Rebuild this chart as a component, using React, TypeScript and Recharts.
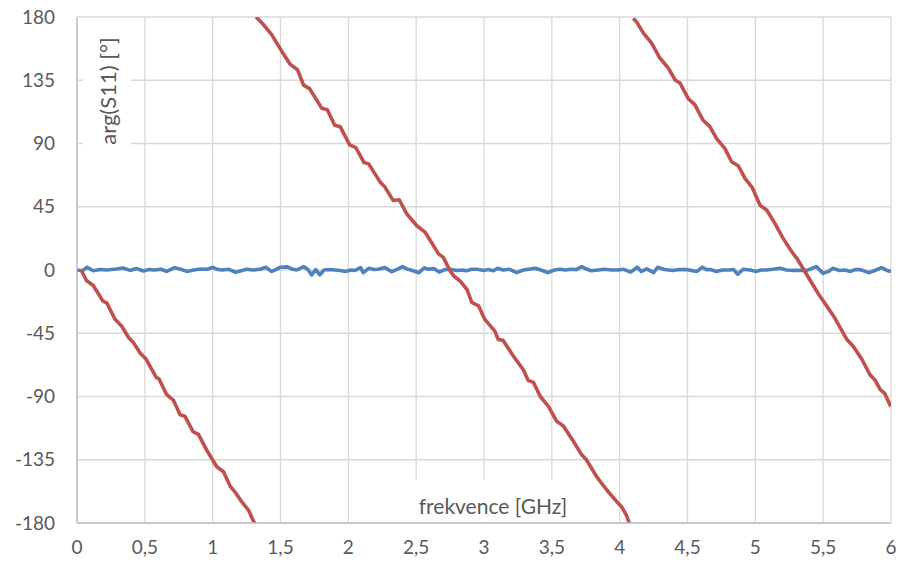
import { LineChart, Line, XAxis, YAxis, CartesianGrid, Label } from 'recharts';

const xTicks = [0, 0.5, 1, 1.5, 2, 2.5, 3, 3.5, 4, 4.5, 5, 5.5, 6];
const yTicks = [-180, -135, -90, -45, 0, 45, 90, 135, 180];

// arg(S11) of the line, wrapped to +-180 -> three pieces
const redFreq1 = [0.03, 0.07, 0.12, 0.19, 0.22, 0.28, 0.33, 0.38, 0.415, 0.465, 0.51, 0.585, 0.605, 0.66, 0.71, 0.76, 0.795, 0.855, 0.895, 0.955, 1.03, 1.08, 1.13, 1.165, 1.215, 1.265, 1.3, 1.31];
const redPhase1 = [0, -7.5, -11, -22, -23.5, -35, -40, -48, -51.5, -59, -63.5, -76.5, -77.5, -88.5, -92.5, -103, -104, -115, -117, -128, -140, -143.5, -154, -158, -165, -171, -178.5, -180];

const redFreq2 = [1.32, 1.37, 1.435, 1.51, 1.57, 1.625, 1.67, 1.715, 1.805, 1.845, 1.9, 1.94, 2.01, 2.055, 2.115, 2.15, 2.235, 2.27, 2.33, 2.375, 2.43, 2.505, 2.565, 2.665, 2.7, 2.75, 2.775, 2.825, 2.875, 2.91, 2.96, 3.005, 3.08, 3.105, 3.14, 3.215, 3.29, 3.325, 3.365, 3.415, 3.475, 3.535, 3.585, 3.66, 3.72, 3.755, 3.83, 3.905, 3.98, 4.015, 4.05, 4.07];
const redPhase2 = [180, 175, 167.5, 155.5, 146.5, 142.5, 131.5, 129, 115, 114, 103, 102, 89, 87, 76.5, 75.5, 62.5, 59, 49.5, 50, 40, 31.5, 27, 11.5, 9, -0.5, -4, -8, -14, -23, -25.5, -35, -43.5, -49.5, -50, -61, -71, -78.5, -80, -90, -97, -107.5, -111, -122, -131.5, -135, -147, -156.5, -165, -168.5, -174.5, -180];

const redFreq3 = [4.1, 4.125, 4.175, 4.235, 4.295, 4.36, 4.41, 4.445, 4.505, 4.555, 4.615, 4.665, 4.715, 4.775, 4.825, 4.875, 4.925, 4.975, 5.035, 5.085, 5.145, 5.205, 5.255, 5.28, 5.305, 5.355, 5.405, 5.465, 5.525, 5.585, 5.675, 5.72, 5.785, 5.845, 5.88, 5.92, 5.955, 5.99, 6.0];
const redPhase3 = [179, 176.5, 168.5, 161.5, 151, 143.5, 135, 133, 122, 117.5, 106.5, 102, 93.5, 86.5, 77, 74, 65, 59, 46, 42.5, 33, 22.5, 15, 11.5, 8.5, 0.5, -7.5, -17, -25.5, -34, -49.5, -54, -63.5, -74.5, -78, -85, -88, -95.5, -97];

// arg(S11) of the reference, noise around 0
const blueFreq = [0, 0.04, 0.075, 0.12, 0.17, 0.22, 0.29, 0.34, 0.39, 0.44, 0.49, 0.53, 0.57, 0.62, 0.66, 0.72, 0.77, 0.81, 0.86, 0.91, 0.96, 1.0, 1.04, 1.07, 1.12, 1.17, 1.21, 1.25, 1.3, 1.35, 1.39, 1.435, 1.47, 1.5, 1.55, 1.59, 1.62, 1.67, 1.7, 1.73, 1.76, 1.79, 1.82, 1.86, 1.9, 1.94, 1.98, 2.02, 2.05, 2.09, 2.11, 2.15, 2.19, 2.22, 2.27, 2.32, 2.36, 2.4, 2.43, 2.46, 2.52, 2.56, 2.59, 2.63, 2.67, 2.71, 2.75, 2.8, 2.84, 2.87, 2.91, 2.95, 3.0, 3.03, 3.07, 3.1, 3.14, 3.19, 3.24, 3.29, 3.33, 3.38, 3.42, 3.47, 3.52, 3.56, 3.6, 3.64, 3.68, 3.72, 3.76, 3.79, 3.84, 3.89, 3.94, 3.99, 4.03, 4.08, 4.13, 4.16, 4.2, 4.25, 4.28, 4.33, 4.39, 4.44, 4.49, 4.53, 4.57, 4.61, 4.64, 4.67, 4.71, 4.76, 4.81, 4.84, 4.87, 4.91, 4.96, 5.01, 5.04, 5.08, 5.13, 5.18, 5.23, 5.28, 5.33, 5.38, 5.45, 5.5, 5.54, 5.57, 5.62, 5.66, 5.7, 5.74, 5.77, 5.81, 5.84, 5.89, 5.93, 5.97, 6.0];
const bluePhase = [0, -0.5, 1.9, -0.5, 0.3, 0, 0.7, 1.4, -0.3, 1, -0.7, 0.3, 0, 0.5, -1, 1.7, 0.3, -1, 0, 0.7, 0.5, 1.9, 0.3, 0, 0.5, -1.7, -0.5, 0.5, 0, 0.5, 1.9, -1, 0.5, 2, 2.2, 0.5, 0, 2.4, 0.5, -3.5, 0.3, -3.5, 0, 0.3, 0, -0.3, -1, 0, -0.3, 1.7, -1.9, 1.2, 0.3, 0.5, 1.7, -1.2, 0.5, 2.4, 0.8, 0, -1.9, 1.5, 0.5, 1, -1.5, 0.3, 0.5, -0.3, 0, -0.5, 0.5, 0.5, -0.3, 0.3, -0.5, 1.2, 0, 0.5, -1.9, 0, 0.5, 1.2, 0, -1.9, 0, 0.5, 0, 0.5, 0.3, 2.4, 0.5, -0.5, 0, 0.5, 0, 0, 0.5, -1.5, 2, -1, 0.8, -1.9, 1.9, 0.3, -0.3, 0.3, 0.3, -0.3, -1, 2, 0.3, 0.3, -1, 0, 0, 0.3, -3, 0.5, 0, -1, 0, 0, 0.5, 1.2, 0, -0.3, -0.3, -0.3, 2.4, -2.4, -1, 1.2, -0.3, 0, -1, 0.3, 0.3, -1, -1.9, 0, 1.7, -0.3, -1];

const toPoints = (freq: number[], phase: number[]) => freq.map((f, i) => ({ f, phase: phase[i] }));

const red1 = toPoints(redFreq1, redPhase1);
const red2 = toPoints(redFreq2, redPhase2);
const red3 = toPoints(redFreq3, redPhase3);
const blue = toPoints(blueFreq, bluePhase);

const FONT = 'Lato, "Open Sans", sans-serif';
const TEXT = '#595959';
const RED = '#C0504D';
const BLUE = '#4F81BD';

// axis titles sit inside the plot on a white box, like Excel does
const YTitle = (props: any) => {
  const vb = props.viewBox;
  const cx = vb.x + vb.width + 30;
  const cy = vb.y + 74;
  return (
    <g>
      <rect x={cx - 24} y={cy - 64} width={48} height={128} fill="#fff" />
      <text x={cx} y={cy} transform={`rotate(-90 ${cx} ${cy})`} textAnchor="middle" dominantBaseline="central"
        fill={TEXT} fontSize={22} fontFamily={FONT}>
        arg(S11) [°]
      </text>
    </g>
  );
};

const XTitle = (props: any) => {
  const vb = props.viewBox;
  const cx = vb.x + 416;
  const cy = vb.y - 18;
  return (
    <g>
      <rect x={cx - 88} y={cy - 25} width={176} height={42} fill="#fff" />
      <text x={cx} y={cy} textAnchor="middle" dominantBaseline="central"
        fill={TEXT} fontSize={21} fontFamily={FONT}>
        frekvence [GHz]
      </text>
    </g>
  );
};

const App = () => (
  <div style={{ position: 'absolute', left: 0, top: 0, background: '#fff' }}>
    <LineChart width={898} height={567} margin={{ top: 17, right: 7, bottom: 0, left: 0 }}>
      <CartesianGrid stroke="#D9D9D9" strokeWidth={1.3} />
      <XAxis
        type="number"
        dataKey="f"
        domain={[0, 6]}
        ticks={xTicks}
        allowDataOverflow
        height={44}
        tickSize={0}
        tickMargin={18}
        axisLine={{ stroke: '#BFBFBF', strokeWidth: 1.3 }}
        tick={{ fill: TEXT, fontSize: 19, fontFamily: FONT }}
        tickFormatter={(v) => String(v).replace('.', ',')}
      >
        <Label content={XTitle} />
      </XAxis>
      <YAxis
        type="number"
        domain={[-180, 180]}
        ticks={yTicks}
        allowDataOverflow
        width={77}
        tickSize={0}
        tickMargin={22}
        axisLine={{ stroke: '#BFBFBF', strokeWidth: 1.3 }}
        tick={{ fill: TEXT, fontSize: 19, fontFamily: FONT }}
      >
        <Label content={YTitle} />
      </YAxis>
      <Line data={blue} dataKey="phase" stroke={BLUE} strokeWidth={3.6} dot={false} isAnimationActive={false} strokeLinejoin="round" />
      <Line data={red1} dataKey="phase" stroke={RED} strokeWidth={3.6} dot={false} isAnimationActive={false} strokeLinejoin="round" />
      <Line data={red2} dataKey="phase" stroke={RED} strokeWidth={3.6} dot={false} isAnimationActive={false} strokeLinejoin="round" />
      <Line data={red3} dataKey="phase" stroke={RED} strokeWidth={3.6} dot={false} isAnimationActive={false} strokeLinejoin="round" />
    </LineChart>
  </div>
);

export default App;
